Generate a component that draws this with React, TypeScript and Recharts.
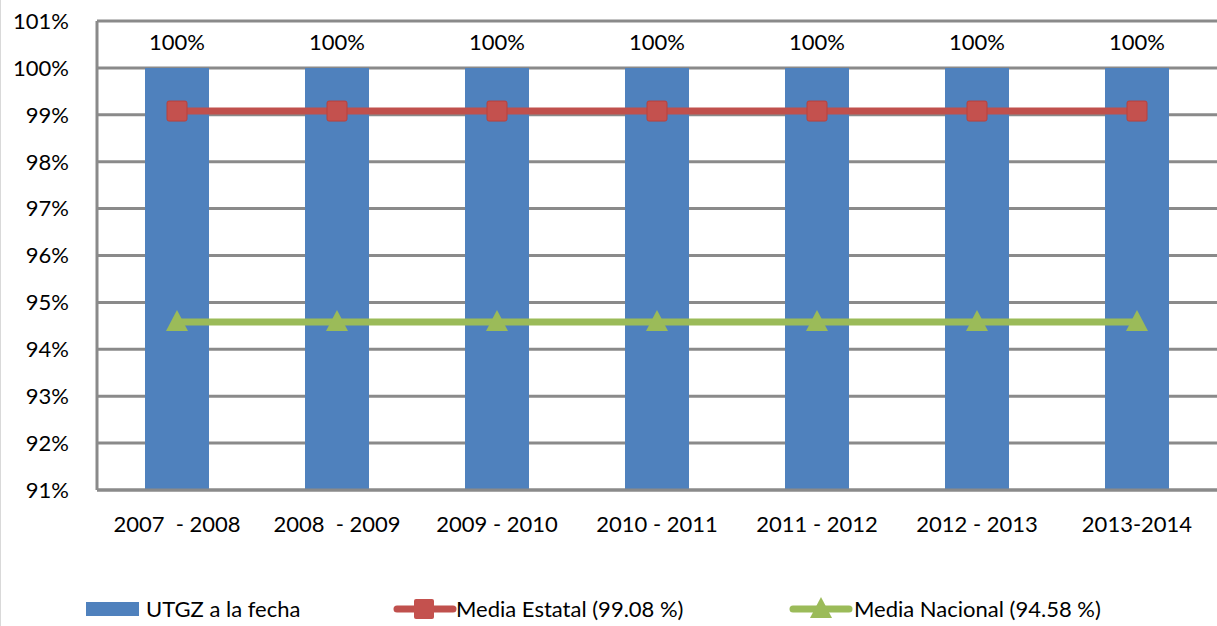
import React from "react";
import {
  Bar,
  CartesianGrid,
  ComposedChart,
  LabelList,
  Legend,
  Line,
  XAxis,
  YAxis,
} from "recharts";

const periods = [
  "2007\u00a0 - 2008",
  "2008\u00a0 - 2009",
  "2009 - 2010",
  "2010 - 2011",
  "2011 - 2012",
  "2012 - 2013",
  "2013-2014",
];
const utgz = [100, 100, 100, 100, 100, 100, 100];
const mediaEstatal = [99.08, 99.08, 99.08, 99.08, 99.08, 99.08, 99.08];
const mediaNacional = [94.58, 94.58, 94.58, 94.58, 94.58, 94.58, 94.58];
const yTicks = [91, 92, 93, 94, 95, 96, 97, 98, 99, 100, 101];
const seriesNames = [
  "UTGZ a la fecha",
  "Media Estatal (99.08 %)",
  "Media Nacional (94.58 %)",
];

const BLUE = "#4F81BD";
const RED = "#C0504D";
const GREEN = "#9BBB59";
const GRID = "#8a8a8a";
const FONT = "Lato, 'Open Sans', sans-serif";
const FS = 22;

const data = periods.map((p, i) => ({
  period: p,
  utgz: utgz[i],
  estatal: mediaEstatal[i],
  nacional: mediaNacional[i],
}));

function SquareDot(props: any) {
  const { cx, cy } = props;
  if (cx == null || cy == null) return null;
  return (
    <rect
      x={cx - 10}
      y={cy - 10}
      width={20}
      height={20}
      rx={2}
      fill="#C4514E"
      stroke="#B8403D"
      strokeWidth={1}
    />
  );
}

function TriangleDot(props: any) {
  const { cx, cy } = props;
  if (cx == null || cy == null) return null;
  return (
    <path
      d={`M${cx},${cy - 12} L${cx + 11},${cy + 9} L${cx - 11},${cy + 9} Z`}
      fill={GREEN}
    />
  );
}

function LegendContent() {
  const text = { fontSize: FS, color: "#000", fontFamily: FONT, lineHeight: "30px" };
  return (
    <div style={{ position: "relative", width: 1217, height: 30 }}>
      <div style={{ position: "absolute", left: 85, top: 8, width: 53, height: 14, background: BLUE }} />
      <span style={{ ...text, position: "absolute", left: 145, top: 0 }}>{seriesNames[0]}</span>
      <svg style={{ position: "absolute", left: 392, top: 0 }} width={64} height={30}>
        <line x1={4} y1={15} x2={60} y2={15} stroke={RED} strokeWidth={7} strokeLinecap="round" />
        <rect x={21} y={5} width={20} height={20} rx={2} fill="#C4514E" />
      </svg>
      <span style={{ ...text, position: "absolute", left: 455, top: 0 }}>{seriesNames[1]}</span>
      <svg style={{ position: "absolute", left: 788, top: 0 }} width={64} height={30}>
        <line x1={4} y1={15} x2={60} y2={15} stroke={GREEN} strokeWidth={7} strokeLinecap="round" />
        <path d="M32,3 L43,24 L21,24 Z" fill={GREEN} />
      </svg>
      <span style={{ ...text, position: "absolute", left: 853, top: 0 }}>{seriesNames[2]}</span>
    </div>
  );
}

export default function App() {
  return (
    <div
      style={{
        position: "absolute",
        left: 0,
        top: 0,
        width: 1217,
        height: 626,
        background: "#fff",
        borderLeft: "1px solid #d9d9d9",
        boxSizing: "border-box",
        fontFamily: FONT,
      }}
    >
      <ComposedChart
        width={1216}
        height={626}
        data={data}
        margin={{ top: 21, right: 0, left: 0, bottom: 106 }}
        barCategoryGap="30%"
      >
        <CartesianGrid vertical={false} stroke={GRID} strokeWidth={3} />
        <XAxis
          dataKey="period"
          axisLine={{ stroke: GRID, strokeWidth: 3 }}
          tickLine={false}
          tickMargin={20}
          interval={0}
          tick={{ fontSize: FS, fill: "#000", fontFamily: FONT }}
        />
        <YAxis
          width={96}
          domain={[91, 101]}
          ticks={yTicks}
          interval={0}
          tickFormatter={(v) => `${v}%`}
          axisLine={{ stroke: GRID, strokeWidth: 3 }}
          tickLine={false}
          tickMargin={22}
          tick={{ fontSize: FS, fill: "#000", fontFamily: FONT }}
        />
        <Bar dataKey="utgz" name={seriesNames[0]} fill={BLUE} barSize={64} isAnimationActive={false}>
          <LabelList
            dataKey="utgz"
            position="top"
            offset={18}
            formatter={(v: any) => `${v}%`}
            style={{ fontSize: FS, fill: "#000", fontFamily: FONT }}
          />
        </Bar>
        <Line
          dataKey="estatal"
          name={seriesNames[1]}
          stroke={RED}
          strokeWidth={7}
          dot={<SquareDot />}
          activeDot={false}
          isAnimationActive={false}
        />
        <Line
          dataKey="nacional"
          name={seriesNames[2]}
          stroke={GREEN}
          strokeWidth={7}
          dot={<TriangleDot />}
          activeDot={false}
          isAnimationActive={false}
        />
        <Legend
          verticalAlign="middle"
          align="center"
          layout="horizontal"
          content={<LegendContent />}
          wrapperStyle={{ position: "absolute", top: 594, left: 0, width: 1217 }}
        />
      </ComposedChart>
    </div>
  );
}
